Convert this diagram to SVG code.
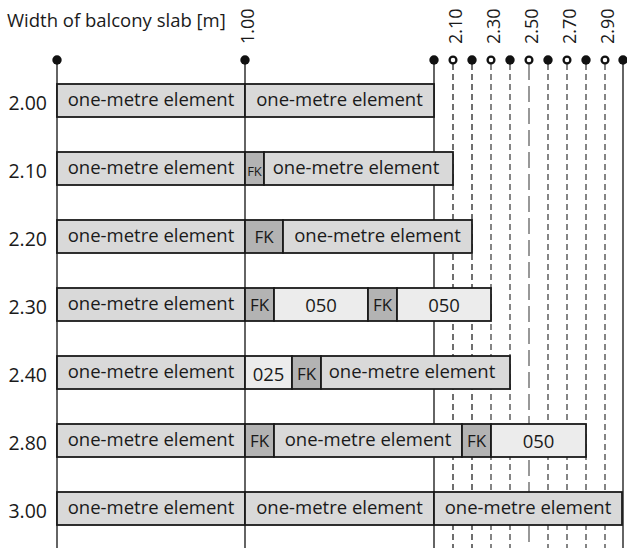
<svg xmlns="http://www.w3.org/2000/svg" width="627" height="548" viewBox="0 0 627 548">
<style>
text{font-family:"Open Sans","DejaVu Sans",sans-serif;fill:#1a1a1a}
.t{font-size:18.5px}
.b{font-size:18.5px}
.c{text-anchor:middle}
.rl{text-anchor:end;font-size:19.5px}
.ax{font-size:18px}
.fk{font-size:17px}
.fks{font-size:13px}
.e{fill:#d9d9d9;stroke:#1a1a1a;stroke-width:1.8}
.h{fill:#ececec;stroke:#1a1a1a;stroke-width:1.8}
.k{fill:#b3b3b3;stroke:#1a1a1a;stroke-width:1.8}
.s{stroke:#111;stroke-width:1.3;fill:none}
.d1{stroke:#222;stroke-width:1.3;stroke-dasharray:6 4;fill:none}
.d2{stroke:#444;stroke-width:1.3;stroke-dasharray:6 4;fill:none}
.lg{stroke:#777;stroke-width:1.5;stroke-dasharray:16 6;fill:none}
.fd{fill:#111}
.od{fill:#fff;stroke:#111;stroke-width:2.3}
</style>
<rect width="627" height="548" fill="#fff"/>
<g id="axis">
<text class="t" x="7" y="27">Width of balcony slab [m]</text>
<text class="ax" transform="translate(254,44) rotate(-90)">1.00</text>
<text class="ax" transform="translate(462,44) rotate(-90)">2.10</text>
<text class="ax" transform="translate(500,44) rotate(-90)">2.30</text>
<text class="ax" transform="translate(538,44) rotate(-90)">2.50</text>
<text class="ax" transform="translate(576,44) rotate(-90)">2.70</text>
<text class="ax" transform="translate(614,44) rotate(-90)">2.90</text>
</g>
<g id="connectors">
<line class="s" x1="57" y1="60" x2="57" y2="548"/>
<line class="s" x1="245" y1="60" x2="245" y2="548"/>
<line class="s" x1="434" y1="60" x2="434" y2="548"/>
<line class="d1" x1="453" y1="64" x2="453" y2="548"/>
<line class="d1" x1="472" y1="64" x2="472" y2="548"/>
<line class="d2" x1="491" y1="64" x2="491" y2="548"/>
<line class="d2" x1="510" y1="64" x2="510" y2="548"/>
<line class="lg" x1="529" y1="64" x2="529" y2="548"/>
<line class="d2" x1="548" y1="64" x2="548" y2="548"/>
<line class="d2" x1="567" y1="64" x2="567" y2="548"/>
<line class="d2" x1="586" y1="64" x2="586" y2="548"/>
<line class="d2" x1="605" y1="64" x2="605" y2="548"/>
<line class="s" x1="623" y1="60" x2="623" y2="548"/>
<circle class="fd" cx="57" cy="60" r="4.7"/>
<circle class="fd" cx="245" cy="60" r="4.7"/>
<circle class="fd" cx="434" cy="60" r="4.7"/>
<circle class="od" cx="453" cy="60" r="3.4"/>
<circle class="fd" cx="472" cy="60" r="4.7"/>
<circle class="od" cx="491" cy="60" r="3.4"/>
<circle class="fd" cx="510" cy="60" r="4.7"/>
<circle class="od" cx="529" cy="60" r="3.4"/>
<circle class="fd" cx="548" cy="60" r="4.7"/>
<circle class="od" cx="567" cy="60" r="3.4"/>
<circle class="fd" cx="586" cy="60" r="4.7"/>
<circle class="od" cx="605" cy="60" r="3.4"/>
<circle class="fd" cx="623" cy="60" r="4.7"/>
</g>
<g id="row-200">
<text class="rl" x="47" y="110">2.00</text>
<rect class="e" x="57" y="84" width="188" height="33"/>
<text class="b c" x="151" y="106">one-metre element</text>
<rect class="e" x="245" y="84" width="189" height="33"/>
<text class="b c" x="339.5" y="106">one-metre element</text>
</g>
<g id="row-210">
<text class="rl" x="47" y="178">2.10</text>
<rect class="e" x="57" y="152" width="188" height="33"/>
<text class="b c" x="151" y="174">one-metre element</text>
<rect class="k" x="245" y="152" width="19" height="33"/>
<text class="fks c" x="254.5" y="176">FK</text>
<rect class="e" x="264" y="152" width="189" height="33"/>
<text class="b c" x="356" y="174">one-metre element</text>
</g>
<g id="row-220">
<text class="rl" x="47" y="246">2.20</text>
<rect class="e" x="57" y="220" width="188" height="33"/>
<text class="b c" x="151" y="242">one-metre element</text>
<rect class="k" x="245" y="220" width="38" height="33"/>
<text class="fk c" x="264" y="243">FK</text>
<rect class="e" x="283" y="220" width="189" height="33"/>
<text class="b c" x="377.5" y="242">one-metre element</text>
</g>
<g id="row-230">
<text class="rl" x="47" y="314">2.30</text>
<rect class="e" x="57" y="288" width="188" height="33"/>
<text class="b c" x="151" y="310">one-metre element</text>
<rect class="k" x="245" y="288" width="29" height="33"/>
<text class="fk c" x="259.5" y="311">FK</text>
<rect class="h" x="274" y="288" width="94" height="33"/>
<text class="b c" x="321" y="312">050</text>
<rect class="k" x="368" y="288" width="29" height="33"/>
<text class="fk c" x="382.5" y="311">FK</text>
<rect class="h" x="397" y="288" width="94" height="33"/>
<text class="b c" x="444" y="312">050</text>
</g>
<g id="row-240">
<text class="rl" x="47" y="382">2.40</text>
<rect class="e" x="57" y="356" width="188" height="33"/>
<text class="b c" x="151" y="378">one-metre element</text>
<rect class="h" x="245" y="356" width="47" height="33"/>
<text class="b c" x="268.5" y="381">025</text>
<rect class="k" x="292" y="356" width="29" height="33"/>
<text class="fk c" x="306.5" y="380">FK</text>
<rect class="e" x="321" y="356" width="189" height="33"/>
<text class="b c" x="412" y="378">one-metre element</text>
</g>
<g id="row-280">
<text class="rl" x="47" y="450">2.80</text>
<rect class="e" x="57" y="424" width="188" height="33"/>
<text class="b c" x="151" y="446">one-metre element</text>
<rect class="k" x="245" y="424" width="29" height="33"/>
<text class="fk c" x="259.5" y="447">FK</text>
<rect class="e" x="274" y="424" width="188" height="33"/>
<text class="b c" x="368" y="446">one-metre element</text>
<rect class="k" x="462" y="424" width="29" height="33"/>
<text class="fk c" x="476.5" y="447">FK</text>
<rect class="h" x="491" y="424" width="95" height="33"/>
<text class="b c" x="538.5" y="448">050</text>
</g>
<g id="row-300">
<text class="rl" x="47" y="518">3.00</text>
<rect class="e" x="57" y="492" width="188" height="33"/>
<text class="b c" x="151" y="514">one-metre element</text>
<rect class="e" x="245" y="492" width="189" height="33"/>
<text class="b c" x="339.5" y="514">one-metre element</text>
<rect class="e" x="434" y="492" width="188" height="33"/>
<text class="b c" x="528" y="514">one-metre element</text>
</g>
</svg>
